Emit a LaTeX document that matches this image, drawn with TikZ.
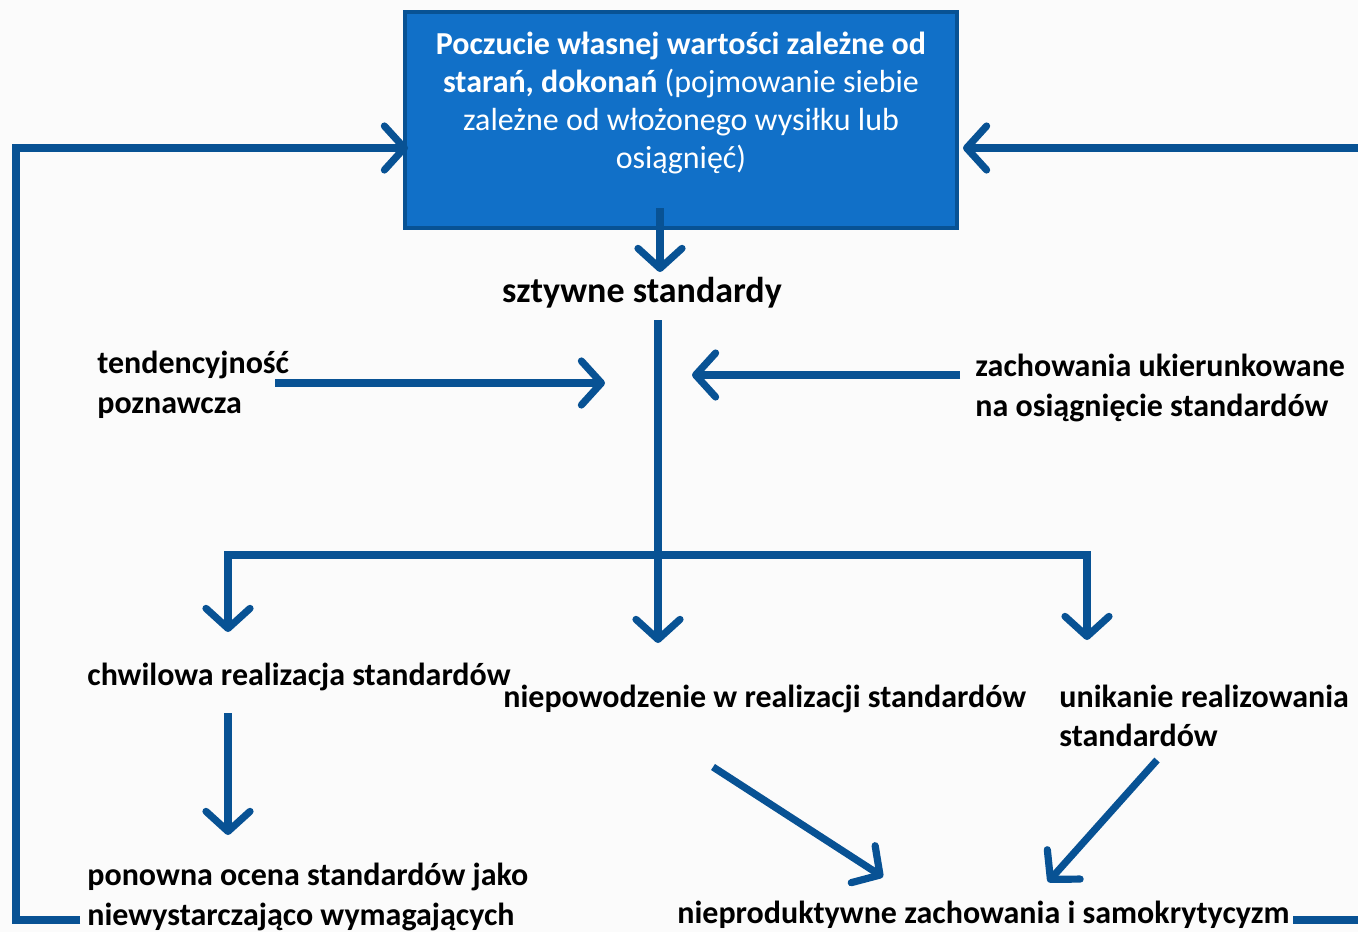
\documentclass[tikz,border=0pt]{standalone}
\usepackage{fontspec}
\setmainfont{Carlito}
\usetikzlibrary{arrows.meta}
\definecolor{flow}{HTML}{085294}
\definecolor{boxfill}{HTML}{1170C8}
\definecolor{paper}{HTML}{FBFBFB}
\tikzset{
  lbl/.style={font=\fontsize{16}{19.8}\selectfont\bfseries, text=black, inner sep=0pt, align=left},
  conn/.style={draw=flow, line width=3.6pt, -{Straight Barb[length=10pt, width=22pt, line width=3.6pt, round]}},
  plain/.style={draw=flow, line width=3.6pt},
}
\begin{document}
\begin{tikzpicture}[x=0.5pt, y=-0.5pt]
  \fill[paper] (0,0) rectangle (1358,932);
  \useasboundingbox (0,0) rectangle (1358,932);

  % main box
  \node[draw=flow, line width=2pt, fill=boxfill, minimum width=276pt, minimum height=108pt,
        inner sep=0pt] (top) at (681,119.5) {};
  \node[font=\fontsize{16}{19}\selectfont, text=white, align=center, inner sep=0pt,
        anchor=center] (toptext) at (681,103)
    {\textbf{Poczucie własnej wartości zależne od}\\
     \textbf{starań, dokonań} (pojmowanie siebie\\
     zależne od włożonego wysiłku lub\\
     osiągnięć)};

  % labels
  \node[lbl, font=\fontsize{18}{21}\selectfont\bfseries, anchor=center] (rigid) at (642,293) {sztywne standardy};
  \node[lbl, anchor=west] (bias) at (97,385) {tendencyjność\\poznawcza};
  \node[lbl, anchor=west] (aim) at (975,388) {zachowania ukierunkowane\\na osiągnięcie standardów};
  \node[lbl, anchor=west] (temp) at (87,677) {chwilowa realizacja standardów};
  \node[lbl, anchor=west] (fail) at (503,699) {niepowodzenie w realizacji standardów};
  \node[lbl, anchor=west] (avoid) at (1059,716) {unikanie realizowania\\standardów};
  \node[lbl, anchor=west] (reeval) at (87,897) {ponowna ocena standardów jako\\niewystarczająco wymagających};
  \node[lbl, anchor=west] (unprod) at (677,915) {nieproduktywne zachowania i samokrytycyzm};

  % junction points
  \coordinate (boxout) at (660,208);
  \coordinate (rigidtip) at (660,272);
  \coordinate (stemtop) at (658,320);
  \coordinate (stemtip) at (658,643);
  \coordinate (meetL) at (605,383);
  \coordinate (meetR) at (692,375);
  \coordinate (biasout) at (275,383);
  \coordinate (aimout) at (960,375);
  \coordinate (splitL) at (228,555);
  \coordinate (splitR) at (1087,555);
  \coordinate (tempin) at (228,632);
  \coordinate (avoidin) at (1087,640);
  \coordinate (tempout) at (228,713);
  \coordinate (reevalin) at (228,835);
  \coordinate (failout) at (713,767);
  \coordinate (unprodinA) at (883,877);
  \coordinate (avoidout) at (1157,760);
  \coordinate (unprodinB) at (1048,882);
  \coordinate (loopLa) at (80,920);
  \coordinate (loopLb) at (16,920);
  \coordinate (loopLc) at (16,148);
  \coordinate (topinL) at (408,148);
  \coordinate (loopRa) at (1293,920);
  \coordinate (loopRb) at (1358,920);
  \coordinate (loopRc) at (1358,148);
  \coordinate (topinR) at (963,148);

  % connectors
  \draw[conn] (boxout) -- (rigidtip);
  \draw[conn] (stemtop) -- (stemtip);
  \draw[conn] (biasout) -- (meetL);
  \draw[conn] (aimout) -- (meetR);
  \draw[plain] ([yshift=-1.8pt]splitL) -- (splitL) -- (splitR) -- ([yshift=-1.8pt]splitR);
  \draw[conn] ([yshift=-1.8pt]splitL) -- (tempin);
  \draw[conn] ([yshift=-1.8pt]splitR) -- (avoidin);
  \draw[conn] (tempout) -- (reevalin);
  \draw[conn] (failout) -- (unprodinA);
  \draw[conn] (avoidout) -- (unprodinB);
  \draw[conn] (loopLa) -- (loopLb) -- (loopLc) -- (topinL);
  \draw[plain] (loopRa) -- (loopRb);
  \draw[conn] (loopRc) -- (topinR);
\end{tikzpicture}
\end{document}
